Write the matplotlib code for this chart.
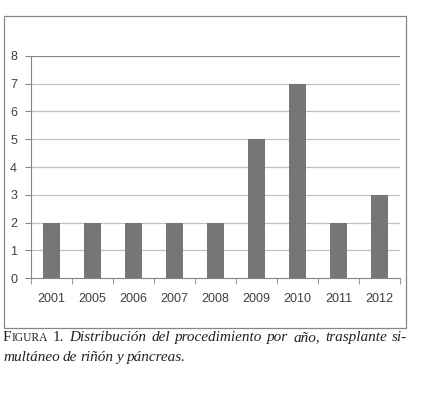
import matplotlib.pyplot as plt
from matplotlib.patches import Rectangle

# datos
anios = ["2001", "2005", "2006", "2007", "2008", "2009", "2010", "2011", "2012"]
casos = [2, 2, 2, 2, 2, 5, 7, 2, 3]
yticks = [0, 1, 2, 3, 4, 5, 6, 7, 8]

W, H = 424, 398
fig = plt.figure(figsize=(W / 100, H / 100), dpi=100)

# marco exterior del grafico
fig.patches.append(Rectangle((0.0094, 0.176), 0.948, 0.784, transform=fig.transFigure,
                             fill=False, edgecolor="#868686", linewidth=0.9))

ax = fig.add_axes([0.0731, 0.3015, 0.8703, 0.5578])
x = list(range(len(anios)))
ax.bar(x, casos, width=0.41, color="#767676", zorder=3)

ax.set_xlim(-0.5, len(anios) - 0.5)
ax.set_ylim(0, 8)
ax.set_yticks(yticks)
ax.set_yticklabels([str(t) for t in yticks])
ax.set_xticks(x)
ax.set_xticklabels(anios)
ax.set_xticks([i + 0.5 for i in range(-1, len(anios))], minor=True)

for y in yticks[1:]:
    ax.axhline(y, color="#868686" if y == 8 else "#c0c0c0", linewidth=0.9, zorder=1)

for s in ["top", "right"]:
    ax.spines[s].set_visible(False)
ax.spines["left"].set_color("#868686")
ax.spines["bottom"].set_color("#868686")

ax.tick_params(axis="x", which="major", length=0, pad=11, labelsize=9, colors="#404040")
ax.tick_params(axis="x", which="minor", length=4, color="#868686", direction="out")
ax.tick_params(axis="y", length=4, color="#868686", pad=6, labelsize=9, colors="#404040")
for lab in ax.get_xticklabels() + ax.get_yticklabels():
    lab.set_fontfamily("Liberation Sans")

# pie de figura (versalitas + cursiva, primera linea justificada)
renderer = fig.canvas.get_renderer()
col = "#222222"
fs = 11


def pieza(texto, size, estilo):
    return fig.text(0, 0, texto, fontsize=size, family="Liberation Serif",
                    style=estilo, color=col, va="baseline")


def ancho(t):
    return t.get_window_extent(renderer).width


linea1 = [[("F", fs, "normal"), ("IGURA", 8.3, "normal")], [("1.", fs, "normal")]]
linea1 += [[(w, fs, "italic")] for w in
           "Distribución del procedimiento por año, trasplante si-".split()]
linea2 = [[(w, fs, "italic")] for w in "multáneo de riñón y páncreas.".split()]


def colocar(palabras, y_px, x0, x1=None):
    objs = [[pieza(*p) for p in pal] for pal in palabras]
    anchos = [sum(ancho(t) for t in pal) for pal in objs]
    if x1 is None:
        hueco = 3.2
    else:
        hueco = (x1 - x0 - sum(anchos)) / (len(objs) - 1)
    xp = x0
    for pal, a in zip(objs, anchos):
        for t in pal:
            t.set_position((xp / W, 1 - y_px / H))
            xp += ancho(t)
        xp += hueco


colocar(linea1, 341, 3, 407)
colocar(linea2, 361, 3)

fig.savefig("out.png", dpi=100)
